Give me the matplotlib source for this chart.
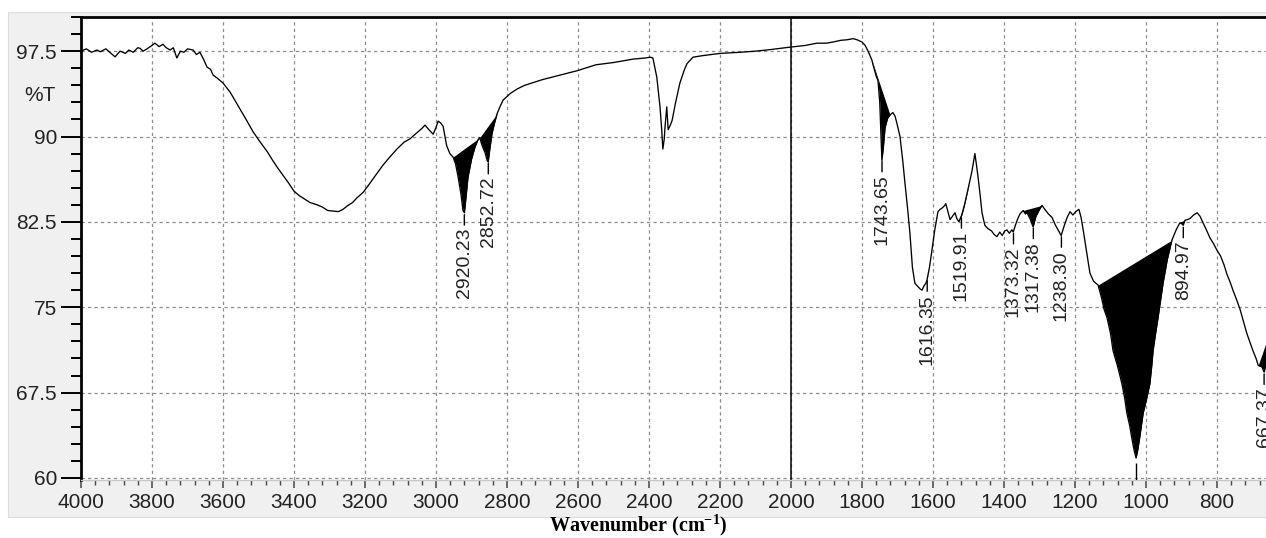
import numpy as np
import matplotlib
matplotlib.use("Agg")
import matplotlib.pyplot as plt
from matplotlib.patches import Rectangle
from matplotlib.ticker import MultipleLocator, FixedLocator, FixedFormatter

plt.rcParams['font.family'] = ['Liberation Sans', 'DejaVu Sans']
plt.rcParams['mathtext.fontset'] = 'custom'
plt.rcParams['mathtext.rm'] = 'Liberation Serif:bold'
plt.rcParams['mathtext.it'] = 'Liberation Serif:bold'
plt.rcParams['mathtext.bf'] = 'Liberation Serif:bold'

# ---------------- data ----------------
wavenumber = np.array([
    4000, 3985, 3970, 3955, 3946, 3930, 3915, 3904, 3890, 3875, 3865, 3853, 3840, 3834, 3825, 3814,
    3800, 3792, 3780, 3769, 3760, 3749, 3740, 3730, 3720, 3710, 3700, 3684, 3675, 3665, 3655, 3645,
    3635, 3628, 3615, 3600, 3590, 3580, 3565, 3552, 3535, 3515, 3495, 3476, 3460, 3445, 3431, 3415,
    3400, 3385, 3370, 3355, 3335, 3320, 3305, 3290, 3275, 3262, 3250, 3235, 3223, 3205, 3186, 3170,
    3149, 3130, 3110, 3090, 3073, 3055, 3040, 3031, 3020, 3008, 3000, 2994, 2987, 2980, 2970, 2961,
    2952, 2945, 2938, 2930, 2924, 2920, 2915, 2910, 2900, 2890, 2882, 2877, 2870, 2862, 2856, 2853,
    2848, 2842, 2835, 2828, 2820, 2811, 2790, 2770, 2750, 2720, 2700, 2650, 2600, 2550, 2500, 2445,
    2410, 2397, 2389, 2378, 2369, 2364, 2361, 2357, 2355, 2350, 2346, 2340, 2335, 2325, 2313, 2300,
    2293, 2276, 2250, 2200, 2144, 2100, 2068, 2030, 2003, 1960, 1927, 1900, 1882, 1860, 1842, 1825,
    1814, 1800, 1791, 1780, 1772, 1769, 1760, 1755, 1750, 1746, 1744, 1740, 1735, 1728, 1721, 1713,
    1707, 1702, 1693, 1685, 1679, 1672, 1665, 1658, 1651, 1645, 1642, 1636, 1631, 1625, 1620, 1617,
    1610, 1603, 1595, 1586, 1580, 1575, 1568, 1564, 1558, 1552, 1545, 1538, 1533, 1527, 1522, 1519,
    1512, 1504, 1497, 1490, 1482, 1478, 1473, 1467, 1462, 1454, 1445, 1435, 1428, 1420, 1412, 1405,
    1398, 1392, 1385, 1378, 1374, 1368, 1361, 1355, 1346, 1340, 1335, 1327, 1318, 1310, 1300, 1293,
    1285, 1275, 1265, 1255, 1246, 1239, 1230, 1222, 1214, 1206, 1198, 1189, 1183, 1177, 1168, 1158,
    1148, 1141, 1135, 1125, 1118, 1110, 1100, 1093, 1080, 1068, 1060, 1054, 1046, 1040, 1034, 1028,
    1023, 1018, 1013, 1008, 998, 989, 984, 980, 973, 966, 959, 952, 940, 927, 915, 905,
    900, 895, 890, 883, 876, 866, 856, 848, 839, 830, 820, 810, 800, 790, 780, 772,
    763, 754, 744, 735, 725, 716, 707, 699, 690, 684, 678, 673, 669, 667, 664, 660, 655])

transmittance = np.array([
    97.5, 97.7, 97.4, 97.6, 97.45, 97.7, 97.3, 97.0, 97.5, 97.3, 97.6, 97.4, 97.8, 97.75, 97.5, 97.7,
    98.0, 98.2, 97.9, 98.1, 97.8, 97.6, 97.8, 96.9, 97.5, 97.4, 97.7, 97.6, 97.2, 97.4, 96.8, 96.1,
    95.9, 95.4, 95.1, 94.7, 94.3, 93.9, 93.1, 92.4, 91.5, 90.4, 89.5, 88.7, 87.9, 87.2, 86.6, 85.9,
    85.2, 84.8, 84.5, 84.2, 84.0, 83.8, 83.5, 83.45, 83.4, 83.6, 83.9, 84.2, 84.6, 85.1, 85.9, 86.6,
    87.5, 88.2, 88.9, 89.5, 89.8, 90.3, 90.7, 91.0, 90.6, 90.2, 90.8, 91.35, 91.2, 90.9, 89.2, 88.5,
    88.2, 87.6, 86.5, 85.0, 83.5, 83.3, 84.8, 86.4, 88.0, 89.1, 89.7, 89.9, 89.2, 88.6, 87.9, 87.75,
    89.0, 90.3, 91.2, 92.0, 92.6, 93.2, 93.8, 94.2, 94.5, 94.8, 95.0, 95.4, 95.8, 96.3, 96.5, 96.8,
    96.9, 96.97, 96.9, 95.2, 92.6, 90.5, 88.9, 89.8, 90.8, 92.6, 90.6, 91.0, 91.4, 93.0, 94.7, 95.9,
    96.4, 96.97, 97.1, 97.3, 97.4, 97.5, 97.6, 97.75, 97.85, 98.0, 98.2, 98.2, 98.3, 98.45, 98.5, 98.6,
    98.5, 98.3, 98.0, 97.3, 96.7, 96.3, 95.3, 94.9, 93.0, 89.5, 87.9, 89.0, 90.8, 91.6, 91.9, 92.1,
    91.8, 91.2, 90.0, 87.8, 85.9, 83.8, 81.5, 78.5, 77.1, 76.9, 76.8, 76.6, 76.5, 76.9, 77.1, 77.4,
    78.5, 80.0, 81.8, 83.4, 83.6, 83.7, 83.9, 84.1, 83.4, 82.7, 83.0, 83.3, 82.8, 82.5, 82.9, 83.1,
    83.9, 85.0, 86.0, 87.0, 88.5, 87.6, 86.4, 84.8, 83.3, 82.2, 81.9, 81.7, 81.4, 81.2, 81.6, 81.3,
    81.7, 81.8, 81.5, 81.8, 81.6, 82.2, 82.8, 83.2, 83.5, 83.2, 83.3, 82.8, 82.05, 83.0, 83.6, 83.95,
    83.6, 83.2, 82.9, 82.2, 81.7, 81.3, 82.2, 82.9, 83.4, 83.1, 83.4, 83.6, 82.9, 81.8, 80.0, 78.0,
    77.3, 77.1, 76.95, 75.8, 74.8, 74.1, 72.7, 71.2, 69.8, 68.3, 67.0, 65.7, 64.6, 63.5, 62.5, 61.75,
    62.5, 63.5, 64.6, 65.7, 67.0, 68.3, 69.8, 71.2, 72.7, 74.1, 75.6, 77.1, 79.2, 80.9, 81.8, 82.4,
    82.35, 82.2, 82.65, 82.7, 82.8, 83.1, 83.3, 83.0, 82.4, 81.8, 81.1, 80.6, 80.0, 79.5, 78.7, 77.9,
    77.2, 76.4, 75.6, 74.8, 73.7, 72.7, 71.9, 71.2, 70.5, 69.9, 69.8, 69.75, 69.4, 69.3, 69.8, 70.6, 72.5])

# labelled peaks
peak_labels = ['2920.23', '2852.72', '1743.65', '1616.35', '1519.91', '1373.32',
               '1317.38', '1238.30', '894.97', '667.37']
peak_positions = [2920.23, 2852.72, 1743.65, 1616.35, 1519.91, 1373.32,
                  1317.38, 1238.30, 894.97, 667.37]
# unlabelled (label below axis) peak
hidden_peak = [1028]

# integration ranges (start, end) for the black shaded areas
fill_ranges = [(2952, 2877), (2877, 2828), (1772, 1721), (1620, 1610), (1527, 1497),
               (1346, 1293), (1135, 927), (905, 876), (684, 655)]

y_ticks = [60, 67.5, 75, 82.5, 90, 97.5]
y_tick_labels = ['60', '67.5', '75', '82.5', '90', '97.5']
x_ticks = [4000, 3800, 3600, 3400, 3200, 3000, 2800, 2600, 2400, 2200, 2000,
           1800, 1600, 1400, 1200, 1000, 800]
cursor_position = 2000

# ---------------- figure ----------------
W, H = 1266, 538
fig = plt.figure(figsize=(W / 100, H / 100), dpi=100)
fig.patch.set_facecolor('white')
fig.patches.append(Rectangle((8 / W, 1 - 517 / H), (W - 8) / W, (517 - 12) / H,
                             transform=fig.transFigure, facecolor='#f0f0f0',
                             edgecolor='#dcdcdc', lw=0.8, zorder=-10))

ax = fig.add_axes([81 / W, 1 - 480 / H, 1 - 81 / W, (480 - 17) / H])
ax.set_facecolor('white')
ax.set_xlim(4000, 662)
ax.set_ylim(59.82, 100.5)

ax.grid(True, which='major', color='#8c8c8c', linestyle=(0, (2.6, 2.6)), lw=0.9, zorder=0)
ax.axvline(cursor_position, color='black', lw=1.1, zorder=2)

ax.plot(wavenumber, transmittance, color='black', lw=0.95, zorder=3)

for a, b in fill_ranges:
    sel = (wavenumber <= a) & (wavenumber >= b)
    xs = wavenumber[sel].astype(float)
    ys = transmittance[sel]
    chord = ys[0] + (ys[-1] - ys[0]) * (xs - xs[0]) / (xs[-1] - xs[0])
    ax.fill_between(xs, ys, chord, where=ys <= chord, interpolate=True,
                    color='black', lw=0, zorder=3)

# peak labels
order = np.argsort(wavenumber)
for lab, pos in zip(peak_labels, peak_positions):
    yv = np.interp(pos, wavenumber[order], transmittance[order])
    ax.annotate(lab, xy=(pos, yv), xytext=(0, -11), textcoords='offset points',
                rotation=90, ha='center', va='top', fontsize=14, color='#222222',
                arrowprops=dict(arrowstyle='-', color='black', lw=1.0,
                                shrinkA=0, shrinkB=1.5), zorder=4)
for pos in hidden_peak:
    yv = np.interp(pos, wavenumber[order], transmittance[order])
    ax.vlines(pos, ax.get_ylim()[0], yv - 0.4, color='black', lw=1.0, zorder=4)

# axes styling
ax.spines['right'].set_visible(False)
ax.spines['top'].set_linewidth(2.0)
ax.spines['left'].set_linewidth(2.0)
ax.spines['bottom'].set_color('#c8c8c8')
ax.spines['bottom'].set_linewidth(1.0)

ax.yaxis.set_major_locator(FixedLocator(y_ticks))
ax.yaxis.set_major_formatter(FixedFormatter(y_tick_labels))
ax.yaxis.set_minor_locator(MultipleLocator(1.5))
ax.xaxis.set_major_locator(FixedLocator(x_ticks))
ax.xaxis.set_minor_locator(MultipleLocator(40))

ax.tick_params(axis='y', which='major', length=14.4, width=1.4, direction='out',
               pad=2.9, labelsize=15, labelcolor='#222222', color='black')
ax.tick_params(axis='y', which='minor', length=7.2, width=1.4, direction='out', color='black')
ax.tick_params(axis='x', which='major', length=6, width=1.1, direction='out',
               pad=3.5, labelsize=15, labelcolor='#222222', color='#444444')
ax.tick_params(axis='x', which='minor', length=3.8, width=1.0, direction='out', color='#444444')

ax.text(-0.0346, 93.6, '%T', transform=ax.get_yaxis_transform(), ha='center', va='center',
        fontsize=15, color='#222222')

fig.text(638 / W, 1 - 525.5 / H, 'Wavenumber (cm$^{-1}$)', ha='center', va='center',
         fontsize=14.5, fontweight='bold', family='Liberation Serif', color='black')

fig.savefig('out.png', dpi=100)
